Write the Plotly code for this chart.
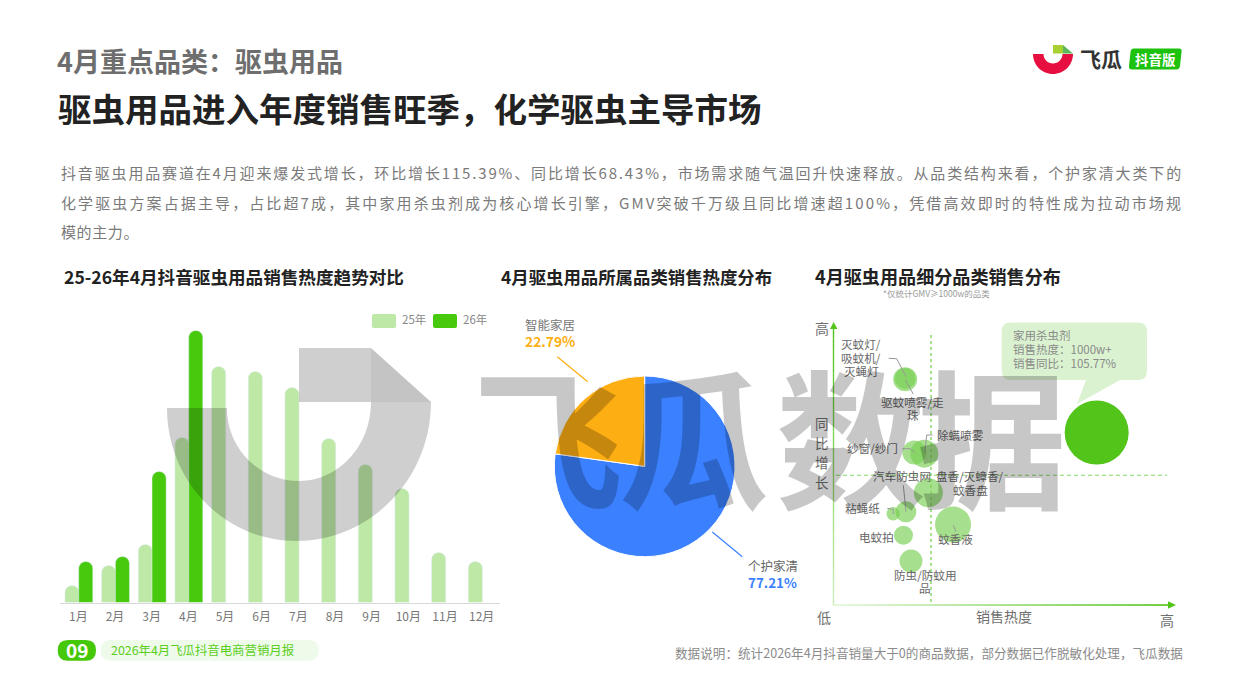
import plotly.graph_objects as go

W, H = 1240, 697
FONT = "Noto Sans CJK SC"

# ---------- data ----------
months = ["1月", "2月", "3月", "4月", "5月", "6月", "7月", "8月", "9月", "10月", "11月", "12月"]
heat_25 = [17, 37, 58, 165, 236, 231, 215, 164, 138, 114, 50, 41]
heat_26 = [41, 46, 131, 272]
months_26 = months[:4]

pie_labels = ["个护家清", "智能家居"]
pie_values = [77.21, 22.79]

bubble_names = ["家用杀虫剂", "驱蚊喷雾/走珠", "灭蚊灯/吸蚊机/灭蝇灯", "纱窗/纱门", "除螨喷雾", "盘香/灭蟑香/蚊香盘",
                "汽车防虫网", "粘蝇纸", "蚊香液", "电蚊拍", "防虫/防蚊用品"]
bubble_x = [77.1, 21.1, 21.1, 23.8, 26.7, 27.9, 21.3, 17.6, 35.1, 20.6, 22.8]
bubble_y = [61.3, 80.5, 80.8, 54.1, 53.7, 39.7, 32.8, 32.1, 28.2, 24.4, 15.1]
bubble_d = [64, 24, 21, 24, 28, 29, 21, 13.5, 36, 19, 23]

C25, C26 = "#bde8a5", "#47c90e"
BLUE, ORANGE = "#3a80ff", "#fdae12"


def X(p): return p / W
def Y(p): return 1 - p / H


def P(x, y): return f"{X(x):.5f},{Y(y):.5f}"


shapes, annos = [], []


def path(d, fill=None, line=None, width=0, layer="below", dash=None):
    s = dict(type="path", xref="paper", yref="paper", path=d, layer=layer,
             fillcolor=fill or "rgba(0,0,0,0)",
             line=dict(color=line or "rgba(0,0,0,0)", width=width))
    if dash:
        s["line"]["dash"] = dash
    shapes.append(s)


def poly(pts, close=True):
    return "M" + " L".join(P(*p) for p in pts) + (" Z" if close else "")


def rrect(x0, y0, x1, y1, r):
    return (f"M{P(x0 + r, y0)} L{P(x1 - r, y0)} Q{P(x1, y0)} {P(x1, y0 + r)} L{P(x1, y1 - r)} Q{P(x1, y1)} {P(x1 - r, y1)} "
            f"L{P(x0 + r, y1)} Q{P(x0, y1)} {P(x0, y1 - r)} L{P(x0, y0 + r)} Q{P(x0, y0)} {P(x0 + r, y0)} Z")


def txt(x, y, s, size=12, color="#666666", bold=False, anchor="center", dy=-1.5):
    dx = {"left": -1, "right": 1, "center": 0}[anchor]
    annos.append(dict(xref="paper", yref="paper", x=X(x + dx), y=Y(y + dy), text=f"<b>{s}</b>" if bold else s,
                      showarrow=False, xanchor=anchor, yanchor="middle", borderpad=0,
                      font=dict(size=size, color=color, family=FONT)))


def lead(pts, color="#999999", width=1):
    path(poly(pts, close=False), line=color, width=width, layer="above")


def hexmix(a, b, t):
    ca = [int(a[i:i + 2], 16) for i in (1, 3, 5)]
    cb = [int(b[i:i + 2], 16) for i in (1, 3, 5)]
    return "#%02x%02x%02x" % tuple(round(u + (v - u) * t) for u, v in zip(ca, cb))


# ---------- header ----------
txt(57, 62, "4月重点品类：驱虫用品", 27, "#6e6e6e", True, "left")
txt(58, 110, "驱虫用品进入年度销售旺季，化学驱虫主导市场", 33.5, "#222222", True, "left", dy=-3)
para = ["抖音驱虫用品赛道在4月迎来爆发式增长，环比增长115.39%、同比增长68.43%，市场需求随气温回升快速释放。从品类结构来看，个护家清大类下的",
        "化学驱虫方案占据主导，占比超7成，其中家用杀虫剂成为核心增长引擎，GMV突破千万级且同比增速超100%，凭借高效即时的特性成为拉动市场规",
        "模的主力。"]
for py, line in zip([173, 203, 233], para):
    txt(61, py, line, 15, "#7a7a7a", False, "left", dy=-1)

# logo
kk = 0.5523
def half_ring(cx, cy, ro, ri):
    return (f"M{P(cx - ro, cy)} C{P(cx - ro, cy + ro * kk)} {P(cx - ro * kk, cy + ro)} {P(cx, cy + ro)} "
            f"C{P(cx + ro * kk, cy + ro)} {P(cx + ro, cy + ro * kk)} {P(cx + ro, cy)} L{P(cx + ri, cy)} "
            f"C{P(cx + ri, cy + ri * kk)} {P(cx + ri * kk, cy + ri)} {P(cx, cy + ri)} "
            f"C{P(cx - ri * kk, cy + ri)} {P(cx - ri, cy + ri * kk)} {P(cx - ri, cy)} Z")


path(half_ring(1053, 54, 20, 9.5), fill="#e60f3f")
path(poly([(1053, 45), (1063, 45), (1063, 53.5), (1053, 53.5)]), fill="#a8d033")
path(poly([(1063, 45), (1073, 53.5), (1063, 53.5)]), fill="#5bb85a")
txt(1101, 59, "飞瓜", 21, "#333333", True)
path(f"M{P(1134, 48.5)} L{P(1179, 48.5)} Q{P(1182, 48.5)} {P(1181.6, 51.5)} L{P(1180, 66)} Q{P(1179.6, 69.5)} {P(1176, 69.5)} "
     f"L{P(1132, 69.5)} Q{P(1128.6, 69.5)} {P(1129, 66)} L{P(1130.6, 51.5)} Q{P(1131, 48.5)} {P(1134, 48.5)} Z", fill="#1cc20e")
txt(1155, 60.5, "抖音版", 13.5, "#ffffff", True)

# section titles
txt(64, 278, "25-26年4月抖音驱虫用品销售热度趋势对比", 17.6, "#222222", True, "left")
txt(501, 278, "4月驱虫用品所属品类销售热度分布", 17.4, "#222222", True, "left")
txt(815, 277, "4月驱虫用品细分品类销售分布", 18.1, "#222222", True, "left")
txt(883, 294, "*仅统计GMV≥1000w的品类", 8.5, "#9a9a9a", False, "left")

# bar legend
path(rrect(372, 314, 396, 328, 2), fill=C25)
path(rrect(433, 314, 457, 328, 2), fill=C26)
txt(402, 320, "25年", 11.5, "#888888", False, "left")
txt(463, 320, "26年", 11.5, "#888888", False, "left")

# pie labels
lead([(557.3, 356.7), (587.7, 381.7)], ORANGE, 1.2)
lead([(712.3, 532), (742.3, 556.7)], BLUE, 1.2)
txt(550.3, 325.5, pie_labels[1], 12.5, "#777777", dy=-0.7)
txt(550, 342, f"{pie_values[1]:.2f}%", 13.8, ORANGE, True)
txt(772.7, 566, pie_labels[0], 12.5, "#666666", dy=-0.7)
txt(772.7, 583, f"{pie_values[0]:.2f}%", 13.4, BLUE, True)

# scatter axes (gradient arrows)
N = 24
for i in range(N):
    t0, t1 = i / N, (i + 1) / N
    col = hexmix("#e6f8de", "#52c41a", t1)
    path(poly([(833 + (1169 - 833) * t0, 605), (833 + (1169 - 833) * t1, 605)], False), line=col, width=1.6)
    col2 = hexmix("#cdf0bd", "#52c41a", t1)
    path(poly([(833.5, 605 - (605 - 327) * t0), (833.5, 605 - (605 - 327) * t1)], False), line=col2, width=1.4)
path(poly([(1168, 601.3), (1176, 605), (1168, 608.7)]), fill="#52c41a")
path(poly([(830, 329), (833.7, 322), (837.4, 329)]), fill="#52c41a")
path(poly([(931, 335), (931, 604)], False), line="#82d862", width=1.4, dash="3px,3px", layer="below")
path(poly([(836, 475.3), (1167, 475.3)], False), line="#82d862", width=1.1, dash="4px,3px", layer="below")

txt(822, 329, "高", 14, "#6e6e6e")
for py, ch in zip([423, 443, 462, 482], "同比增长"):
    txt(822, py, ch, 13.5, "#6e6e6e", dy=-0.5)
txt(824, 618, "低", 14, "#6e6e6e")
txt(1004, 617, "销售热度", 14, "#6e6e6e")
txt(1167, 621, "高", 14, "#6e6e6e")

# callout
r = 9
path(f"M{P(1001.7 + r, 322.5)} L{P(1147 - r, 322.5)} Q{P(1147, 322.5)} {P(1147, 322.5 + r)} L{P(1147, 380 - r)} "
     f"Q{P(1147, 380)} {P(1147 - r, 380)} L{P(1120, 380)} L{P(1077, 404)} L{P(1086, 380)} L{P(1001.7 + r, 380)} "
     f"Q{P(1001.7, 380)} {P(1001.7, 380 - r)} L{P(1001.7, 322.5 + r)} Q{P(1001.7, 322.5)} {P(1001.7 + r, 322.5)} Z",
     fill="#dbf2d0")
txt(1013, 336.7, "家用杀虫剂", 11.5, "#8a8a8a", False, "left")
txt(1013, 350.7, "销售热度：1000w+", 11.5, "#8a8a8a", False, "left")
txt(1013, 364.7, "销售同比：105.77%", 11.5, "#8a8a8a", False, "left")

# bubble labels and leaders
LBL = "#666666"
def blab(x, y, s):
    txt(x, y, s, 11.6, LBL, dy=-0.5)


for py, s in zip([344.7, 358.3, 371.7], ["灭蚊灯/", "吸蚊机/", "灭蝇灯"]):
    blab(861, py, s)
blab(912.7, 402.7, "驱蚊喷雾/走")
blab(912.7, 416, "珠")
blab(872, 448.7, "纱窗/纱门")
blab(960, 435, "除螨喷雾")
blab(902, 476, "汽车防虫网")
blab(970, 477, "盘香/灭蟑香/")
blab(970, 490.7, "蚊香盘")
blab(862.3, 508.3, "粘蝇纸")
blab(876.7, 537.7, "电蚊拍")
blab(955.3, 539.3, "蚊香液")
blab(925, 575, "防虫/防蚊用")
blab(925, 588.3, "品")
lead([(888.7, 358.3), (896.7, 358.7), (906, 376.7)])
lead([(905.3, 380), (913.3, 394)])
lead([(902.7, 448.7), (910, 448.7), (915, 452.7)])
lead([(932.7, 435), (926.7, 435), (924.7, 453.3)])
lead([(903.3, 485.3), (906, 511.7)])
lead([(887.3, 508.3), (893.3, 509.3), (893.3, 514)])
lead([(953.3, 525.3), (956, 531.7)])

# footer
path(rrect(57.7, 640, 96, 660.7, 10.3), fill="#46c80a")
path(rrect(100.7, 640, 318.7, 660.7, 10.3), fill="#eefaea")
txt(77, 651, "09", 19, "#ffffff", True)
txt(111, 651, "2026年4月飞瓜抖音电商营销月报", 12.4, "#5ccf1c", False, "left")
txt(1183, 653.5, "数据说明：统计2026年4月抖音销量大于0的商品数据，部分数据已作脱敏化处理，飞瓜数据", 12.6, "#8a8a8a", False, "right")

# watermark: logo mark + wordmark, painted over the charts
WM = "rgba(0,0,0,0.19)"
path(f"M{P(167, 408)} L{P(227, 408)} C{P(227, 408 + 73 * kk)} {P(299 - 72 * kk, 481)} {P(299, 481)} "
     f"C{P(299 + 72 * kk, 481)} {P(371, 402 + 79 * kk)} {P(371, 402)} L{P(431, 402)} "
     f"C{P(431, 402 + 139 * kk)} {P(296 + 135 * kk, 541)} {P(296, 541)} "
     f"C{P(296 - 129 * kk, 541)} {P(167, 408 + 133 * kk)} {P(167, 408)} Z", fill=WM, layer="above")
path(poly([(299, 348), (371, 348), (371, 402), (299, 402)]), fill=WM, layer="above")
path(poly([(371, 348), (431, 402), (371, 402)]), fill="rgba(0,0,0,0.23)", layer="above")
for px_, ch in zip([548, 694, 851, 992], "飞瓜数据"):
    txt(px_, 434, ch, 150, "rgba(0,0,0,0.22)", True)

# ---------- traces ----------
fig = go.Figure()
fig.add_trace(go.Bar(x=months, y=heat_25, name="25年", marker_color=C25, width=0.385, offset=-0.365,
                     xaxis="x", yaxis="y", showlegend=False))
fig.add_trace(go.Bar(x=months_26, y=heat_26, name="26年", marker_color=C26, width=0.385, offset=0.01,
                     xaxis="x", yaxis="y", showlegend=False))
fig.add_trace(go.Pie(labels=pie_labels, values=pie_values, sort=False, direction="clockwise", rotation=0,
                     marker=dict(colors=[BLUE, ORANGE], line=dict(color="#ffffff", width=1)),
                     textinfo="none", showlegend=False, automargin=False,
                     domain=dict(x=[X(554.3), X(735)], y=[Y(556.7), Y(376)])))
bubble_colors = ["#52c41a"] + ["rgba(118,208,82,0.65)"] * (len(bubble_x) - 1)
fig.add_trace(go.Scatter(x=bubble_x, y=bubble_y, text=bubble_names, mode="markers", xaxis="x2", yaxis="y2",
                         marker=dict(size=bubble_d, sizemode="diameter", color=bubble_colors, opacity=1, line=dict(width=0)),
                         showlegend=False))

fig.update_layout(
    width=W, height=H, autosize=False, margin=dict(l=0, r=0, t=0, b=0),
    paper_bgcolor="#ffffff", plot_bgcolor="rgba(0,0,0,0)",
    font=dict(family=FONT), barmode="overlay", barcornerradius=7,
    xaxis=dict(domain=[X(60), X(500)], type="category", categoryorder="array", categoryarray=months,
               showgrid=False, showline=True, linecolor="#d9d9d9", linewidth=1, ticks="outside", ticklen=3,
               tickcolor="rgba(0,0,0,0)", tickfont=dict(size=12, color="#777777", family=FONT), anchor="y", fixedrange=True),
    yaxis=dict(domain=[Y(602.5), Y(300)], range=[0, 302.5], visible=False, anchor="x", fixedrange=True),
    xaxis2=dict(domain=[X(833), X(1175)], range=[0, 100], visible=False, anchor="y2", fixedrange=True),
    yaxis2=dict(domain=[Y(603), Y(325)], range=[0, 100], visible=False, anchor="x2", fixedrange=True),
    shapes=shapes, annotations=annos,
)

# body reset, and paragraph tracking so the lines span the same width as the reference
post = """
document.body.style.margin='0';document.body.style.overflow='hidden';
var T={'抖音驱虫':1122,'化学驱虫方案':1122,'模的主力':78};
document.querySelectorAll('.annotation-text').forEach(function(el){
  var s=el.textContent;
  Object.keys(T).forEach(function(k){
    if(s.indexOf(k)===0){
      var w=el.getComputedTextLength();
      el.style.letterSpacing=((T[k]-w)/s.length)+'px';
      el.setAttribute('x',parseFloat(el.getAttribute('x'))+(T[k]-w)/2);
    }
  });
});
"""
fig.write_html("out.html", config=dict(displayModeBar=False), post_script=post)
